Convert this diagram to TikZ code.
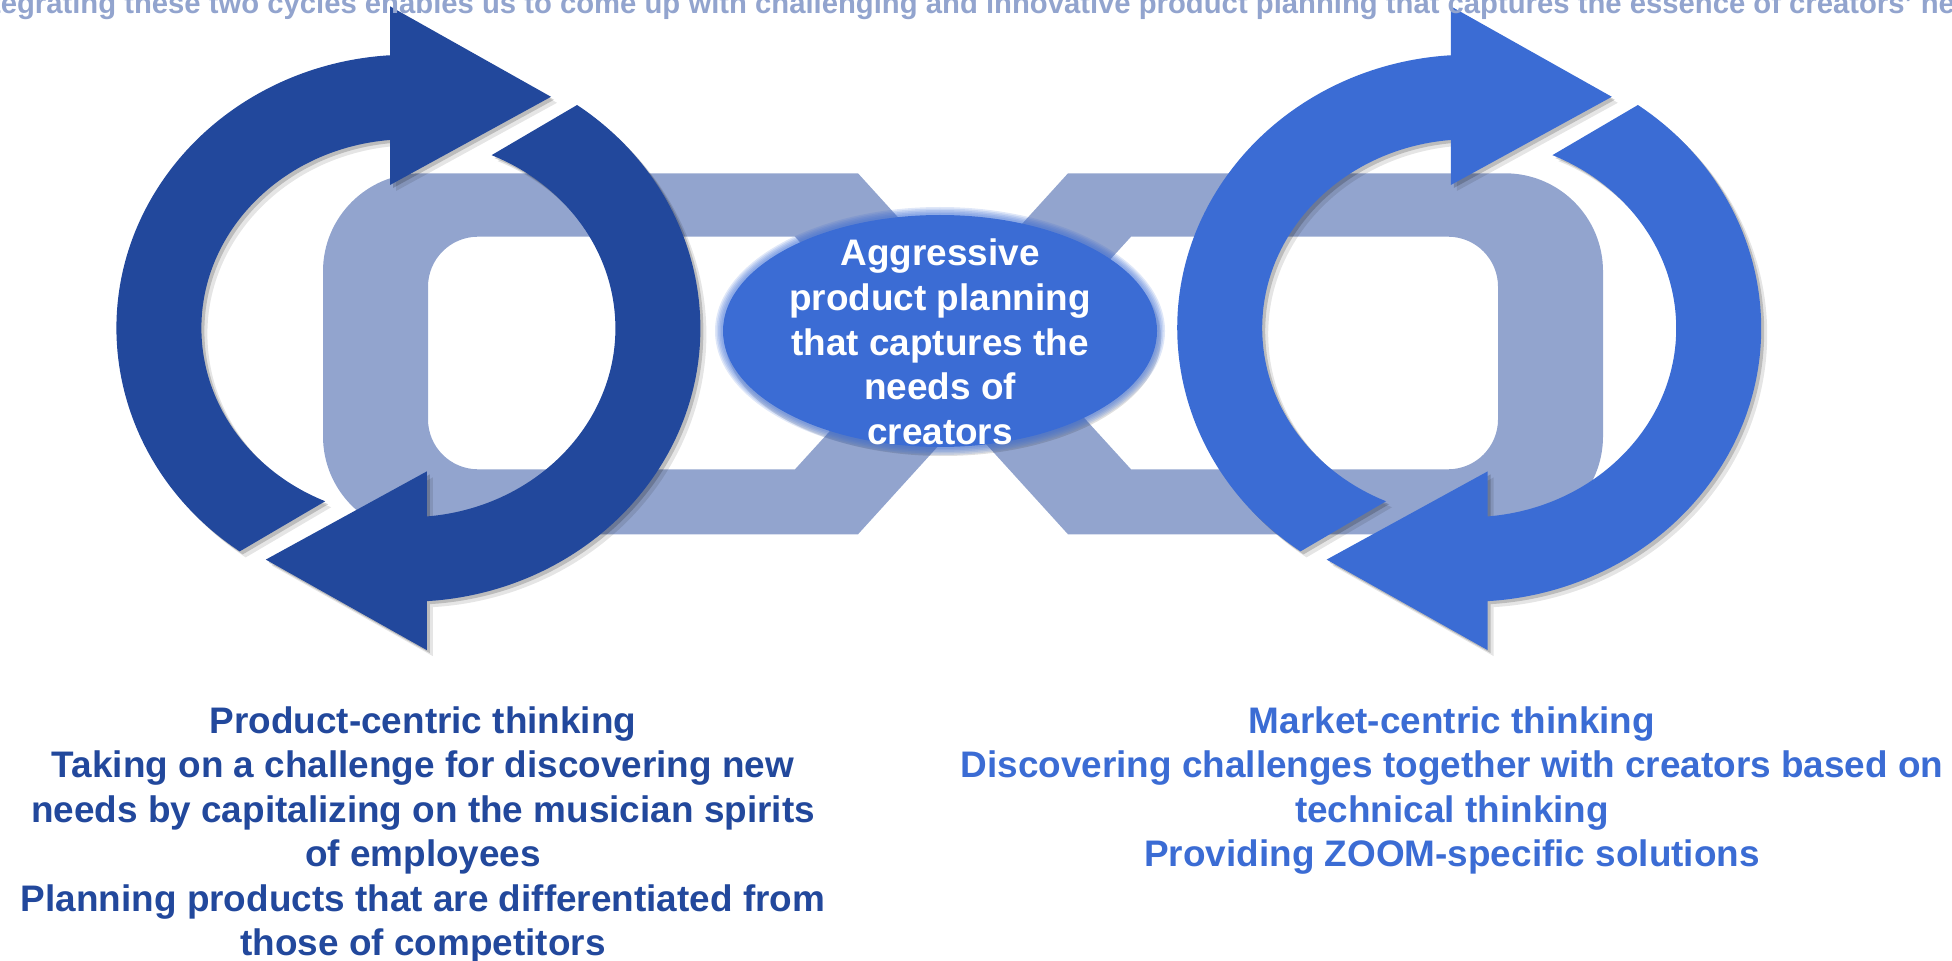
\documentclass[tikz,border=0pt]{standalone}
\usepackage{fontspec}
\setmainfont{Liberation Sans}
\usepackage{tikz}
\definecolor{cycdark}{RGB}{34,72,156}
\definecolor{cyclight}{RGB}{59,108,212}
\definecolor{linkblue}{RGB}{146,164,206}
\tikzset{every picture/.style={x=0.01cm, y=0.01cm}}
\tikzstyle{link}     = [fill=linkblue, even odd rule]
\tikzstyle{shade}    = [fill=black]
\tikzstyle{caption}  = [inner sep=0pt, align=center, font=\bfseries\fontsize{10.5pt}{12.66pt}\selectfont]
\tikzstyle{headline} = [inner sep=0pt, text=linkblue, font=\bfseries\fontsize{8.32pt}{10pt}\selectfont]

% one half of a cycle arrow, centred on (0,0)
\newcommand{\cyclehalf}{(-168.7,-223.2)
  arc[start angle=234.7, end angle=93.61, x radius=292, y radius=273.5]
  -- (-18.4,321.9) -- (142.6,231.4) -- (-18.4,143.2) -- (-18.4,188.25)
  arc[start angle=95.1, end angle=246.3, x radius=207, y radius=189] -- cycle}
% one chain link, open end to the right
\newcommand{\chainlink}{(858,786.7) -- (421,786.7) arc[start angle=90, end angle=180, radius=98]
  -- (323,523.7) arc[start angle=180, end angle=270, radius=98]
  -- (858,425.7) -- (1022,606.2) -- cycle
  (795,723.3) -- (478,723.3) arc[start angle=90, end angle=180, radius=50]
  -- (428,540.7) arc[start angle=180, end angle=270, radius=50]
  -- (795,490.7) -- (901,607) -- cycle}
% cycle of two arrows: #1 centre, #2 colour
\newcommand{\drawcycle}[2]{%
  \begin{scope}[shift={#1}]
    \foreach \r in {0,180} {
      \fill[shade, opacity=0.10, shift={(6,-6)}, rotate=\r] \cyclehalf;
      \fill[shade, opacity=0.18, shift={(3,-3)}, rotate=\r] \cyclehalf;
    }
    \foreach \r in {0,180}
      \fill[#2, rotate=\r] \cyclehalf;
  \end{scope}}

\begin{document}
\begin{tikzpicture}
	\useasboundingbox (0,0) rectangle (1952,960);
	\clip (0,0) rectangle (1952,960);

	% Kette
	\fill[link] \chainlink;
	\begin{scope}[shift={(1926,0)}, xscale=-1]
		\fill[link] \chainlink;
	\end{scope}

	% Kreislaeufe
	\drawcycle{(408.4,631.8)}{cycdark}
	\drawcycle{(1469.2,631.8)}{cyclight}

	% Ellipse in der Mitte
	\fill[shade, opacity=0.12] (943,622) ellipse[x radius=218, y radius=118];
	\foreach \g in {8,6.5,5,3.5,2}
		\fill[cyclight, opacity=0.16] (940,629) ellipse[x radius=217+\g, y radius=116+\g];
	\fill[cyclight] (940,629) ellipse[x radius=217, y radius=116];

	% Texte
	\node[headline, anchor=base west] (title) at (-35.7,946.7)
		{Integrating these two cycles enables us to come up with challenging and innovative product planning that captures the essence of creators' needs};
	\node[caption, text=white, anchor=north] (goal) at (940,721.5)
		{Aggressive\\product planning\\that captures the\\needs of\\creators};
	\node[caption, text=cycdark, anchor=north] (product) at (423,254.3)
		{Product-centric thinking\\Taking on a challenge for discovering new\\needs by capitalizing on the musician spirits\\of employees\\Planning products that are differentiated from\\those of competitors};
	\node[caption, text=cyclight, anchor=north] (market) at (1452,254.3)
		{Market-centric thinking\\Discovering challenges together with creators based on\\technical thinking\\Providing ZOOM-specific solutions};
\end{tikzpicture}
\end{document}
